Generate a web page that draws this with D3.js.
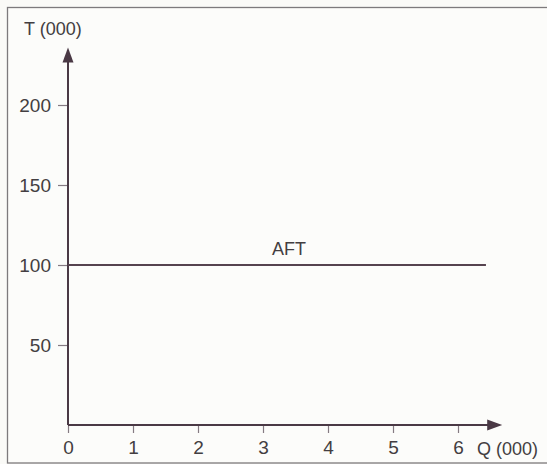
<!DOCTYPE html>
<html>
<head>
<meta charset="utf-8">
<script src="https://cdn.jsdelivr.net/npm/d3@7"></script>
<style>
  html, body { margin: 0; padding: 0; background: #fafaf7; }
  svg { display: block; }
  text { font-family: "Liberation Sans", Arial, Helvetica, sans-serif; }
</style>
</head>
<body>
<svg id="chart" width="547" height="464"></svg>
<script>
// ---- data ----
const xTickValues = [0, 1, 2, 3, 4, 5, 6];
const yTickValues = [50, 100, 150, 200];
const aftLabel = "AFT";
const aftValue = [100];          // fixed total costs (000)
const aftQRange = [0, 6.43];     // extent of the AFT line along Q
const xAxisLabel = "Q (000)";
const yAxisLabel = "T (000)";
const xAxisMax = 6.68;
const yAxisMax = 236;

// ---- layout ----
const svg = d3.select("#chart");
const W = 547, H = 464;
const ink = "#4a3945";
const tickInk = "#857a82";
const textInk = "#433e41";

const x = d3.scaleLinear().domain([0, 1]).range([68, 133]);
const y = d3.scaleLinear().domain([0, 50]).range([425, 345]);

// page frame
svg.append("rect").attr("x", 0).attr("y", 0).attr("width", W).attr("height", H).attr("fill", "#fafaf7");
svg.append("rect")
  .attr("x", 7.5).attr("y", 7.5).attr("width", W + 5).attr("height", 455.5)
  .attr("fill", "#fcfcfa").attr("stroke", "#7d7a7c").attr("stroke-width", 1.3);

// x axis ticks + labels
const xAxis = d3.axisBottom(x).tickValues(xTickValues).tickSize(8).tickPadding(8).tickFormat(d3.format("d"));
const gx = svg.append("g").attr("transform", `translate(0,${y(0)})`).call(xAxis);
gx.select(".domain").remove();
gx.selectAll(".tick line").attr("stroke", tickInk).attr("stroke-width", 1.2);
gx.selectAll(".tick text").attr("fill", textInk).attr("font-size", 19).attr("dy", "0.71em")
  .attr("font-family", "Liberation Sans, Arial, sans-serif");

// y axis ticks + labels
const yAxis = d3.axisLeft(y).tickValues(yTickValues).tickSize(10).tickPadding(7).tickFormat(d3.format("d"));
const gy = svg.append("g").attr("transform", `translate(${x(0)},0)`).call(yAxis);
gy.select(".domain").remove();
gy.selectAll(".tick line").attr("stroke", tickInk).attr("stroke-width", 1.2);
gy.selectAll(".tick text").attr("fill", textInk).attr("font-size", 19)
  .attr("font-family", "Liberation Sans, Arial, sans-serif");

// axis lines with arrows
svg.append("line")
  .attr("x1", x(0)).attr("y1", y(0)).attr("x2", x(0)).attr("y2", y(yAxisMax) + 10)
  .attr("stroke", ink).attr("stroke-width", 2);
svg.append("line")
  .attr("x1", x(0)).attr("y1", y(0)).attr("x2", x(xAxisMax) - 10).attr("y2", y(0))
  .attr("stroke", ink).attr("stroke-width", 2);

const yTip = [x(0), y(yAxisMax)];
svg.append("path")
  .attr("d", `M${yTip[0]},${yTip[1]} L${yTip[0] - 5.5},${yTip[1] + 15} L${yTip[0] + 5.5},${yTip[1] + 15} Z`)
  .attr("fill", ink);
const xTip = [x(xAxisMax), y(0)];
svg.append("path")
  .attr("d", `M${xTip[0]},${xTip[1]} L${xTip[0] - 15},${xTip[1] - 5.5} L${xTip[0] - 15},${xTip[1] + 5.5} Z`)
  .attr("fill", ink);

// axis titles
svg.append("text").attr("x", 24).attr("y", 35).attr("fill", textInk).attr("font-size", 18).text(yAxisLabel);
svg.append("text").attr("x", 477).attr("y", y(0) + 30).attr("fill", textInk).attr("font-size", 18).text(xAxisLabel);

// AFT line
const line = d3.line().x(d => x(d[0])).y(d => y(d[1]));
svg.append("path")
  .datum(aftQRange.map(q => [q, aftValue[0]]))
  .attr("d", line)
  .attr("fill", "none").attr("stroke", "#56434f").attr("stroke-width", 2);
svg.append("text")
  .attr("x", x(3.14)).attr("y", y(aftValue[0]) - 10)
  .attr("fill", textInk).attr("font-size", 18).text(aftLabel);
</script>
</body>
</html>
